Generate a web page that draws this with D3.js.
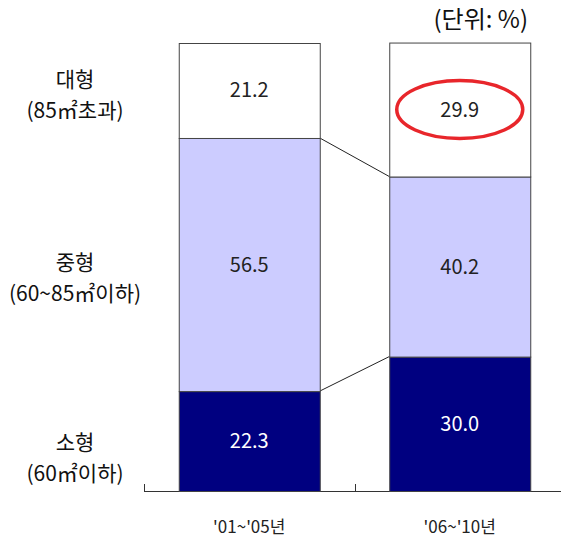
<!DOCTYPE html>
<html><head><meta charset="utf-8">
<script src="https://cdn.jsdelivr.net/npm/d3@7"></script>
<style>
html,body{margin:0;padding:0;background:#fff;}
svg{display:block;font-family:"Noto Sans CJK KR","Noto Sans",sans-serif;}
</style></head>
<body><svg id="chart" width="561" height="541"></svg>
<script>
// Housing size share by period (%)
const periods = ["'01~'05년", "'06~'10년"];
const sizeNames = ["소형", "중형", "대형"];
const sizeNotes = ["(60㎡이하)", "(60~85㎡이하)", "(85㎡초과)"];
const small = [22.3, 30.0];
const medium = [56.5, 40.2];
const large = [21.2, 29.9];
const unitLabel = "(단위: %)";
const highlightIndex = 1; // large-size share in the later period is circled

const colors = ["#000080", "#ccccff", "#ffffff"];
const textColors = ["#ffffff", "#222222", "#222222"];

const svg = d3.select("#chart");
const x = d3.scaleBand().domain(periods).range([144, 565]).paddingInner(0).paddingOuter(0);
const y = d3.scaleLinear().domain([0, 100]).range([491, 43]);
const barW = 141;
const barX = p => x(p) + (x.bandwidth() - barW) / 2;

const rows = periods.map((p, i) => ({ period: p, values: [small[i], medium[i], large[i]] }));
const stacked = rows.map(r => {
  let acc = 0;
  return r.values.map((v, k) => { const s = { k, v, y0: acc, y1: acc + v }; acc += v; return s; });
});

// connector lines between segment boundaries of adjacent bars
const g0 = svg.append("g");
for (let k = 0; k < 2; k++) {
  g0.append("line")
    .attr("x1", barX(periods[0]) + barW).attr("y1", y(stacked[0][k].y1))
    .attr("x2", barX(periods[1])).attr("y2", y(stacked[1][k].y1))
    .attr("stroke", "#222").attr("stroke-width", 1);
}

// axis baseline with ticks
const axis = svg.append("g");
axis.append("line").attr("x1", 144).attr("x2", 561).attr("y1", 491.5).attr("y2", 491.5)
  .attr("stroke", "#333").attr("stroke-width", 1.2);
[0, 1].forEach(i => {
  const tx = Math.round(x.range()[0] + i * x.bandwidth()) + 0.5;
  axis.append("line").attr("x1", tx).attr("x2", tx).attr("y1", 484).attr("y2", 491.5)
    .attr("stroke", "#333").attr("stroke-width", 1);
});

// stacked segments
rows.forEach((r, i) => {
  const g = svg.append("g");
  stacked[i].forEach(s => {
    g.append("rect")
      .attr("x", barX(r.period) + 0.5).attr("y", y(s.y1) + 0.5)
      .attr("width", barW).attr("height", y(s.y0) - y(s.y1))
      .attr("fill", colors[s.k]).attr("stroke", "#444").attr("stroke-width", 1);
    g.append("text")
      .attr("x", barX(r.period) + barW / 2)
      .attr("y", (y(s.y0) + y(s.y1)) / 2)
      .attr("dy", "0.35em")
      .attr("text-anchor", "middle")
      .attr("font-size", 20)
      .attr("fill", textColors[s.k])
      .text(s.v.toFixed(1));
  });
});

// highlight ellipse
const hs = stacked[highlightIndex][2];
svg.append("ellipse")
  .attr("cx", barX(periods[highlightIndex]) + barW / 2)
  .attr("cy", (y(hs.y0) + y(hs.y1)) / 2)
  .attr("rx", 63).attr("ry", 29)
  .attr("fill", "none").attr("stroke", "#e8262b").attr("stroke-width", 3.5);

// category labels
periods.forEach(p => {
  svg.append("text")
    .attr("x", x(p) + x.bandwidth() / 2).attr("y", 527)
    .attr("dy", "0.35em").attr("text-anchor", "middle")
    .attr("font-size", 17).attr("fill", "#222").text(p);
});

// size labels at the left, aligned with the first bar's segments
const labelY = [443, 263, 80];
sizeNames.forEach((n, k) => {
  svg.append("text").attr("x", 75).attr("y", labelY[k]).attr("dy", "0.35em")
    .attr("text-anchor", "middle").attr("font-size", 21).attr("fill", "#111").text(n);
  svg.append("text").attr("x", 75).attr("y", labelY[k] + 31).attr("dy", "0.35em")
    .attr("text-anchor", "middle").attr("font-size", 21).attr("fill", "#111").text(sizeNotes[k]);
});

svg.append("text").attr("x", 528).attr("y", 20).attr("dy", "0.35em")
  .attr("text-anchor", "end").attr("font-size", 24).attr("fill", "#111").text(unitLabel);
</script></body></html>
